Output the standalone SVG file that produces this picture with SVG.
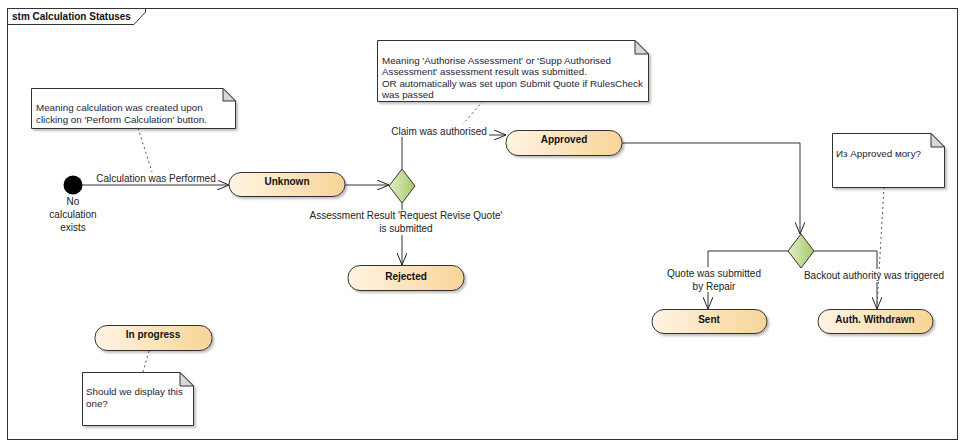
<svg xmlns="http://www.w3.org/2000/svg" width="964" height="442" viewBox="0 0 964 442">
<style>
  .frame { fill: #fff; stroke: #333; stroke-width: 1; }
  .state { stroke: #333; stroke-width: 1; fill: url(#stateGrad); filter: url(#sh); }
  .dec { stroke: #333; stroke-width: 1; fill: url(#decGrad); }
  .note { fill: #fff; stroke: #333; stroke-width: 1; filter: url(#sh); }
  .fold { fill: #d8d8d8; stroke: #333; stroke-width: 1; }
  .conn { fill: none; stroke: #333; stroke-width: 1; }
  .link { fill: none; stroke: #555; stroke-width: 1; stroke-dasharray: 2 3; }
  .lbl { font-family: "Liberation Sans", Arial, sans-serif; font-size: 10px; fill: #222; }
  .st { font-family: "Liberation Sans", Arial, sans-serif; font-size: 10px; font-weight: bold; fill: #111; text-anchor: middle; }
  .nt { font-family: "Liberation Sans", Arial, sans-serif; font-size: 9.8px; fill: #1e1e3c; }
  .bg { fill: #fff; }
</style>
<defs>
  <linearGradient id="stateGrad" x1="0" y1="0" x2="1" y2="0">
    <stop offset="0" stop-color="#fff4e3"/>
    <stop offset="1" stop-color="#f8d497"/>
  </linearGradient>
  <linearGradient id="decGrad" x1="0" y1="0" x2="1" y2="0">
    <stop offset="0" stop-color="#e2efc4"/>
    <stop offset="1" stop-color="#a6c86a"/>
  </linearGradient>
  <filter id="sh" x="-10%" y="-20%" width="130%" height="160%">
    <feDropShadow dx="2" dy="2" stdDeviation="1.2" flood-color="#000" flood-opacity="0.25"/>
  </filter>
  <marker id="arr" viewBox="0 0 12 10" refX="12" refY="5" markerWidth="12" markerHeight="10" markerUnits="userSpaceOnUse" orient="auto">
    <path d="M0,0 L12,5 L0,10" fill="none" stroke="#222" stroke-width="1"/>
  </marker>
</defs>

<g id="frame">
  <rect class="frame" x="7.5" y="8.5" width="950" height="431"/>
  <path d="M7.5,24.5 H134 L145.5,12 V8.5" fill="none" stroke="#333"/>
  <text class="st" x="12" y="20" style="text-anchor:start">stm Calculation Statuses</text>
</g>

<g id="connectors">
  <path class="conn" d="M82,185 H229" marker-end="url(#arr)"/>
  <path class="conn" d="M345,185 H389" marker-end="url(#arr)"/>
  <path class="conn" d="M402,169 V135 H506" marker-end="url(#arr)"/>
  <path class="conn" d="M402,203 V265" marker-end="url(#arr)"/>
  <path class="conn" d="M622,143 H800 V234" marker-end="url(#arr)"/>
  <path class="conn" d="M788,251 H708 V309" marker-end="url(#arr)"/>
  <path class="conn" d="M814,251 H877 V309" marker-end="url(#arr)"/>
</g>

<g id="connector-labels">
  <rect class="bg" x="94" y="172" width="124" height="11"/>
  <text class="lbl" x="156" y="182" text-anchor="middle">Calculation was Performed</text>
  <rect class="bg" x="390" y="126" width="99" height="11"/>
  <text class="lbl" x="439" y="134.5" text-anchor="middle">Claim was authorised</text>
  <rect class="bg" x="312" y="210" width="190" height="25"/>
  <text class="lbl" x="406" y="218.5" text-anchor="middle">Assessment Result 'Request Revise Quote'</text>
  <text class="lbl" x="406" y="232" text-anchor="middle">is submitted</text>
  <rect class="bg" x="666" y="267" width="96" height="25"/>
  <text class="lbl" x="714" y="276.5" text-anchor="middle">Quote was submitted</text>
  <text class="lbl" x="714" y="289.5" text-anchor="middle">by Repair</text>
  <rect class="bg" x="802" y="269" width="144" height="13"/>
  <text class="lbl" x="874" y="278.5" text-anchor="middle">Backout authority was triggered</text>
</g>

<g id="initial">
  <circle cx="73" cy="185" r="9.5" fill="#000"/>
  <text class="lbl" x="73" y="205" text-anchor="middle">No</text>
  <text class="lbl" x="73" y="218" text-anchor="middle">calculation</text>
  <text class="lbl" x="73" y="230.5" text-anchor="middle">exists</text>
</g>

<g id="unknown">
  <rect class="state" x="229" y="172.5" width="116" height="24" rx="12"/>
  <text class="st" x="287" y="184.5">Unknown</text>
</g>

<g id="decision1">
  <polygon class="dec" points="402,169 415,186 402,203 389,186"/>
</g>

<g id="approved">
  <rect class="state" x="506" y="130.5" width="116" height="25" rx="12"/>
  <text class="st" x="564" y="142.5">Approved</text>
</g>

<g id="rejected">
  <rect class="state" x="348" y="265.5" width="116" height="25" rx="12"/>
  <text class="st" x="406" y="279.5">Rejected</text>
</g>

<g id="decision2">
  <polygon class="dec" points="801,234 814,251 801,268 788,251"/>
</g>

<g id="sent">
  <rect class="state" x="652" y="309.5" width="115" height="24" rx="12"/>
  <text class="st" x="709" y="322.5">Sent</text>
</g>

<g id="auth-withdrawn">
  <rect class="state" x="818" y="309.5" width="115" height="24" rx="12"/>
  <text class="st" x="875" y="322.5">Auth. Withdrawn</text>
</g>

<g id="in-progress">
  <rect class="state" x="95" y="325.5" width="117" height="25" rx="12"/>
  <text class="st" x="153" y="337.5">In progress</text>
</g>

<g id="note-links">
  <path class="link" d="M138,128 L152,172"/>
  <path class="link" d="M483,101 L463,124"/>
  <path class="link" d="M884,187 L877,307"/>
  <path class="link" d="M149,351 L143,372"/>
</g>

<g id="note1">
  <path class="note" d="M31.5,88.5 H223 L235.5,101 V128.5 H31.5 Z"/>
  <path class="fold" d="M223,88.5 V101 H235.5 Z"/>
  <text class="nt" x="36" y="111">Meaning calculation was created upon</text>
  <text class="nt" x="36" y="123">clicking on 'Perform Calculation' button.</text>
</g>

<g id="note2">
  <path class="note" d="M377.5,40.5 H635 L648.5,54 V101.5 H377.5 Z"/>
  <path class="fold" d="M635,40.5 V54 H648.5 Z"/>
  <text class="nt" x="382" y="63.5">Meaning 'Authorise Assessment' or 'Supp Authorised</text>
  <text class="nt" x="382" y="75">Assessment' assessment result was submitted.</text>
  <text class="nt" x="382" y="86.5">OR automatically was set upon Submit Quote if RulesCheck</text>
  <text class="nt" x="382" y="98">was passed</text>
</g>

<g id="note3">
  <path class="note" d="M832.5,133.5 H931 L944.5,147 V187.5 H832.5 Z"/>
  <path class="fold" d="M931,133.5 V147 H944.5 Z"/>
  <text class="nt" x="836" y="157">Из Approved могу?</text>
</g>

<g id="note4">
  <path class="note" d="M82.5,372.5 H180 L193.5,386 V425.5 H82.5 Z"/>
  <path class="fold" d="M180,372.5 V386 H193.5 Z"/>
  <text class="nt" x="86" y="395">Should we display this</text>
  <text class="nt" x="86" y="406.5">one?</text>
</g>
</svg>
